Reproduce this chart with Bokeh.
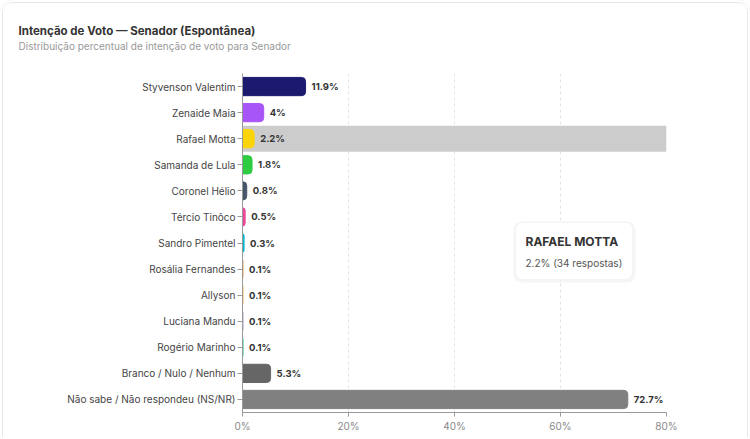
from bokeh.plotting import figure
from bokeh.models import ColumnDataSource, FactorRange, Label, BoxAnnotation, FixedTicker, CustomJSTickFormatter, Title
from bokeh.embed import file_html
from bokeh.resources import INLINE
from bokeh.core.properties import value

categories = ["Styvenson Valentim", "Zenaide Maia", "Rafael Motta", "Samanda de Lula",
              "Coronel Hélio", "Tércio Tinôco", "Sandro Pimentel", "Rosália Fernandes",
              "Allyson", "Luciana Mandu", "Rogério Marinho", "Branco / Nulo / Nenhum",
              "Não sabe / Não respondeu (NS/NR)"]
values = [11.9, 4, 2.2, 1.8, 0.8, 0.5, 0.3, 0.1, 0.1, 0.1, 0.1, 5.3, 72.7]
value_labels = ["11.9%", "4%", "2.2%", "1.8%", "0.8%", "0.5%", "0.3%", "0.1%", "0.1%",
                "0.1%", "0.1%", "5.3%", "72.7%"]
colors = ["#1c1a6e", "#a855f7", "#fcd40a", "#2ecc40", "#475569", "#ec4899", "#06b6d4",
          "#f4a261", "#f5b971", "#b39ddb", "#20c997", "#666666", "#808080"]
x_ticks = [0, 20, 40, 60, 80]
highlight = "Rafael Motta"
tooltip_title = "RAFAEL MOTTA"
tooltip_text = "2.2% (34 respostas)"
title = "Intenção de Voto — Senador (Espontânea)"
subtitle = "Distribuição percentual de intenção de voto para Senador"

FONT = "Inter"

src = ColumnDataSource(dict(cat=categories, val=values, lab=value_labels, col=colors))

p = figure(width=750, height=439, output_backend="svg", toolbar_location=None,
           y_range=FactorRange(*reversed(categories)), x_range=(0, 80),
           min_border_left=242, min_border_right=84, min_border_top=73, min_border_bottom=27,
           styles={"background-color": "white",
                   "border-radius": "12px 12px 0 0",
                   "box-shadow": ("inset 0 0 0 2px white, inset 0 3px 0 0 #e6e6e6, "
                                  "inset 3px 0 0 0 #e6e6e6, inset -3px 0 0 0 #e6e6e6")})
p.outline_line_color = None
p.background_fill_color = "white"
p.border_fill_color = None

# spacer + subtitle + title (stacked outward from the frame)
p.add_layout(Title(text=" ", text_font_size="9px"), "above")
p.add_layout(Title(text=subtitle, align="left", offset=-224, text_font=FONT,
                   text_font_size="10px", text_font_style="normal",
                   text_color="#999999", standoff=0), "above")
p.add_layout(Title(text=title, align="left", offset=-224, text_font=FONT,
                   text_font_size="11.5px", text_font_style="bold",
                   text_color="#333333", standoff=0), "above")

# highlight band
p.hbar(y=[highlight], left=[0], right=[80], height=1.0, color="#cccccc", line_color=None)

p.hbar(y="cat", left=0, right="val", height=0.7, source=src, fill_color="col",
       line_color="col", line_width=1, border_radius=(0, 4, 4, 0))

p.text(x="val", y="cat", text="lab", source=src, x_offset=6,
       text_font=value(FONT), text_font_size="9.5px", text_font_style="bold",
       text_color="#333333", text_baseline="middle", text_align="left")

p.ygrid.grid_line_color = None
p.xgrid.grid_line_color = "#e3e3e3"
p.xgrid.grid_line_dash = "3 3"
p.xgrid.ticker = FixedTicker(ticks=x_ticks)

xa = p.xaxis[0]
xa.ticker = FixedTicker(ticks=x_ticks)
xa.formatter = CustomJSTickFormatter(code="return tick + '%';")
xa.axis_line_color = "#999999"
xa.major_tick_line_color = "#999999"
xa.major_tick_out = 4
xa.major_tick_in = 0
xa.minor_tick_line_color = None
xa.major_label_standoff = 3
xa.major_label_text_font = FONT
xa.major_label_text_font_size = "10px"
xa.major_label_text_color = "#888888"

ya = p.yaxis[0]
ya.axis_line_color = "#999999"
ya.major_tick_line_color = "#999999"
ya.major_tick_out = 5
ya.major_tick_in = 0
ya.major_label_standoff = 2
ya.major_label_text_font = FONT
ya.major_label_text_font_size = "10px"
ya.major_label_text_color = "#444444"

# tooltip (screen units relative to the frame)
p.add_layout(BoxAnnotation(left=271, right=393, top=191, bottom=130,
                           left_units="screen", right_units="screen",
                           top_units="screen", bottom_units="screen",
                           fill_color="#000000", fill_alpha=0.04, line_color=None,
                           border_radius=8))
p.add_layout(BoxAnnotation(left=273, right=390, top=190, bottom=133,
                           left_units="screen", right_units="screen",
                           top_units="screen", bottom_units="screen",
                           fill_color="white", fill_alpha=1, line_color="#e8e8e8",
                           line_width=1, border_radius=7))
p.add_layout(Label(x=283, y=171, x_units="screen", y_units="screen", text=tooltip_title,
                   text_font=FONT, text_font_size="12px", text_font_style="bold",
                   text_color="#333333", text_baseline="middle"))
p.add_layout(Label(x=283, y=150, x_units="screen", y_units="screen", text=tooltip_text,
                   text_font=FONT, text_font_size="10px",
                   text_color="#555555", text_baseline="middle"))

open("out.html", "w").write(file_html(p, INLINE))
